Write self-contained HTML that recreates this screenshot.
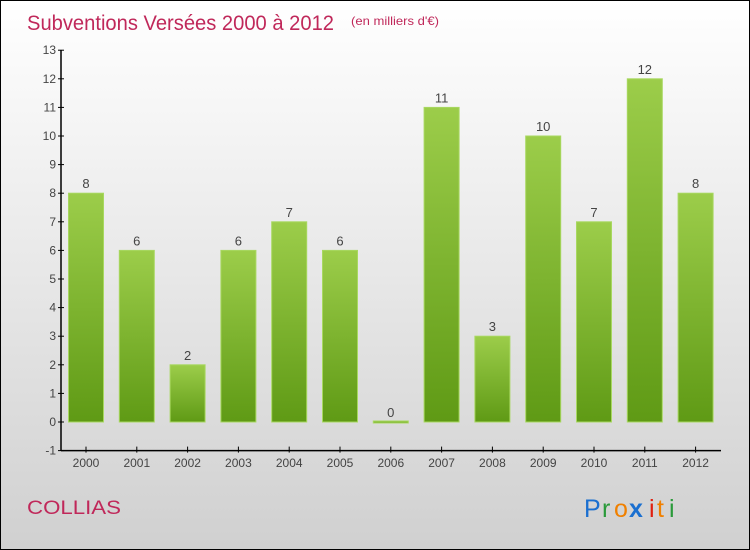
<!DOCTYPE html>
<html><head><meta charset="utf-8"><style>
html,body{margin:0;padding:0}
body{width:750px;height:550px;overflow:hidden;font-family:"Liberation Sans",sans-serif}
#wrap{position:absolute;left:0;top:0;width:748px;height:548px;border:1px solid #000;background:linear-gradient(#ffffff,#d0d0d0)}
</style></head><body>
<div id="wrap">
<svg width="748" height="548" style="position:absolute;left:0;top:0" id="svg">
<defs><linearGradient id="g" x1="0" y1="0" x2="0" y2="1"><stop offset="0" stop-color="#9ccd4a"/><stop offset="1" stop-color="#5f9a15"/></linearGradient></defs>
<text x="26" y="29" font-size="21" fill="#c0285a" textLength="307" lengthAdjust="spacingAndGlyphs">Subventions Versées 2000 à 2012</text>
<text x="350" y="24" font-size="12" fill="#c0285a" textLength="88" lengthAdjust="spacingAndGlyphs">(en milliers d'€)</text>
<text x="26" y="513" font-size="19" fill="#c0285a" textLength="94" lengthAdjust="spacingAndGlyphs">COLLIAS</text>
<g font-size="25" font-family="'Liberation Sans',sans-serif">
<text x="583" y="516" fill="#1a6fd0">P</text><text x="601" y="516" fill="#2a9a3a">r</text><text x="613" y="516" fill="#f08000">o</text><text x="628" y="516" fill="#1a6fd0" font-weight="bold">x</text><text x="648" y="516" fill="#e02010">i</text><text x="656" y="516" fill="#f08000">t</text><text x="668" y="516" fill="#2a9a3a">i</text>
</g>
<g id="plot"></g>
</svg>
</div>
<script>
const categories=["2000","2001","2002","2003","2004","2005","2006","2007","2008","2009","2010","2011","2012"];
const values=[8,6,2,6,7,6,0,11,3,10,7,12,8];
const yTicks=[-1,0,1,2,3,4,5,6,7,8,9,10,11,12,13];
const NS="http://www.w3.org/2000/svg";
const g=document.getElementById('plot');
function y(v){return 421-28.6*v;}
function xc(i){return 85+50.8*i;}
function mk(t,a){const e=document.createElementNS(NS,t);for(const k in a)e.setAttribute(k,a[k]);g.appendChild(e);return e;}
let ax=mk('line',{x1:60,y1:y(13),x2:60,y2:y(-1),stroke:'#000','stroke-width':1.5});


let bx=mk('line',{x1:60,y1:y(-1),x2:720,y2:y(-1),stroke:'#000','stroke-width':1.5});


yTicks.forEach(v=>{
 mk('line',{x1:57,y1:y(v),x2:63,y2:y(v),stroke:'#000'});
 const t=mk('text',{x:55,y:y(v)+4,'font-size':12,fill:'#444','text-anchor':'end'});t.textContent=v;
 
 
});
categories.forEach((c,i)=>{
 const v=values[i];const top=Math.min(y(v),y(0)-1);const h=Math.max(Math.abs(y(0)-y(v)),2);
 const r=mk('rect',{x:xc(i)-17.5,y:top,width:35,height:h,fill:'url(#g)',stroke:'#a8d860','stroke-width':1});
 
 
 const vl=mk('text',{x:xc(i),y:y(v)-5,'font-size':13,fill:'#444','text-anchor':'middle'});vl.textContent=v;
 
 
 mk('line',{x1:xc(i),y1:y(-1)-4,x2:xc(i),y2:y(-1)+2,stroke:'#000'});
 const xl=mk('text',{x:xc(i),y:466,'font-size':12,fill:'#444','text-anchor':'middle'});xl.textContent=c;
 
 
});
</script>
</body></html>
